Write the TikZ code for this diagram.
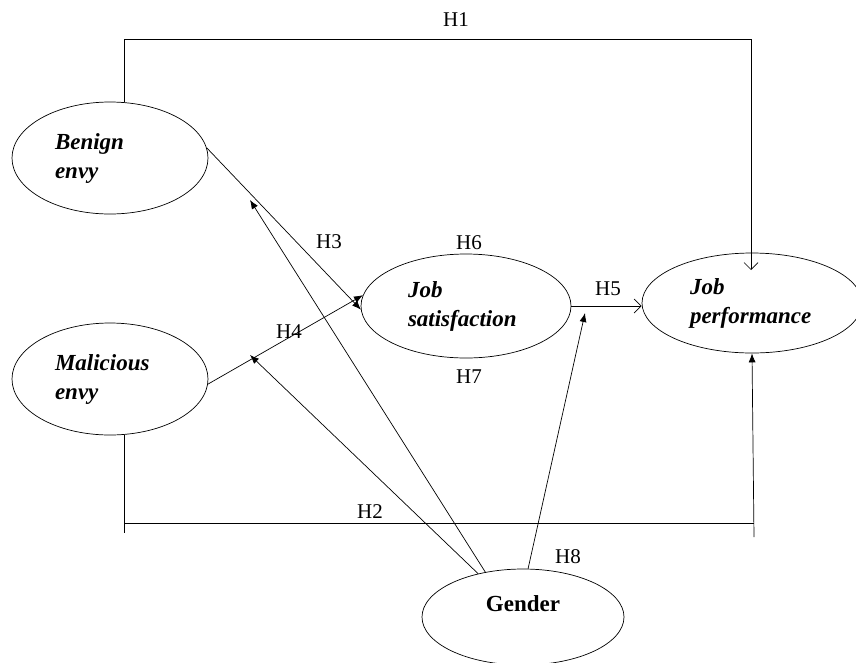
\documentclass[tikz,border=0pt]{standalone}
\usepackage{fontspec}
\setmainfont{Liberation Serif}
\usetikzlibrary{shapes.geometric,arrows.meta}

\begin{document}
\begin{tikzpicture}[
x=1pt,y=-1pt,
line width=0.7pt,
latent/.style={ellipse,draw,align=left,font=\fontsize{23}{29}\selectfont\bfseries\itshape},
hyp/.style={font=\fontsize{21}{25}\selectfont},
>={Latex[length=9pt,width=7pt]},
open/.style={-{Straight Barb[length=7pt,width=14pt]}}
]
\useasboundingbox (0,0) rectangle (856,662);

\node[latent,minimum width=196pt,minimum height=112pt,text width=110pt] (be) at (110,158) {Benign\\envy};
\node[latent,minimum width=196pt,minimum height=112pt,text width=110pt] (me) at (110,379) {Malicious\\envy};
\node[latent,minimum width=210pt,minimum height=104pt,text width=116pt] (js) at (466,306) {Job\\satisfaction};
\node[latent,minimum width=220pt,minimum height=100pt,text width=124pt] (jp) at (752,303) {Job\\performance};
\node[latent,minimum width=202pt,minimum height=96pt,align=center,text depth=26pt,
  font=\fontsize{23}{29}\selectfont\bfseries] (gd) at (523,617) {Gender};

\coordinate (h1r) at (751,39);
\coordinate (h1tip) at (751,270);
\coordinate (h2l) at (124,523);
\coordinate (h2r) at (754,523);
\coordinate (h2b) at (754,537);
\coordinate (mod3) at (250,200);
\coordinate (mod4) at (250,355);
\coordinate (mod5) at (585,313);

\draw[open] (be.76) |- (h1r) -- (h1tip);
\draw (me.284) -- ++(0,98);
\draw (h2l) -- (h2r);
\draw[->] (h2b) -- (jp.south);
\draw[->] (be.6) -- (js.182);
\draw[->] (me.357) -- (js.174);
\draw[open] (js.east) -- (js.east -| jp.west);
\draw[->] (gd.130) -- (mod3);
\draw[->] (gd.136) -- (mod4);
\draw[->] (gd.84) -- (mod5);

\node[hyp] (l1) at (456,20) {H1};
\node[hyp] (l2) at (370,512) {H2};
\node[hyp] (l3) at (329,242) {H3};
\node[hyp] (l4) at (289,332) {H4};
\node[hyp] (l5) at (608,289) {H5};
\node[hyp] (l6) at (469,243) {H6};
\node[hyp] (l7) at (469,377) {H7};
\node[hyp] (l8) at (568,557) {H8};

\end{tikzpicture}
\end{document}
